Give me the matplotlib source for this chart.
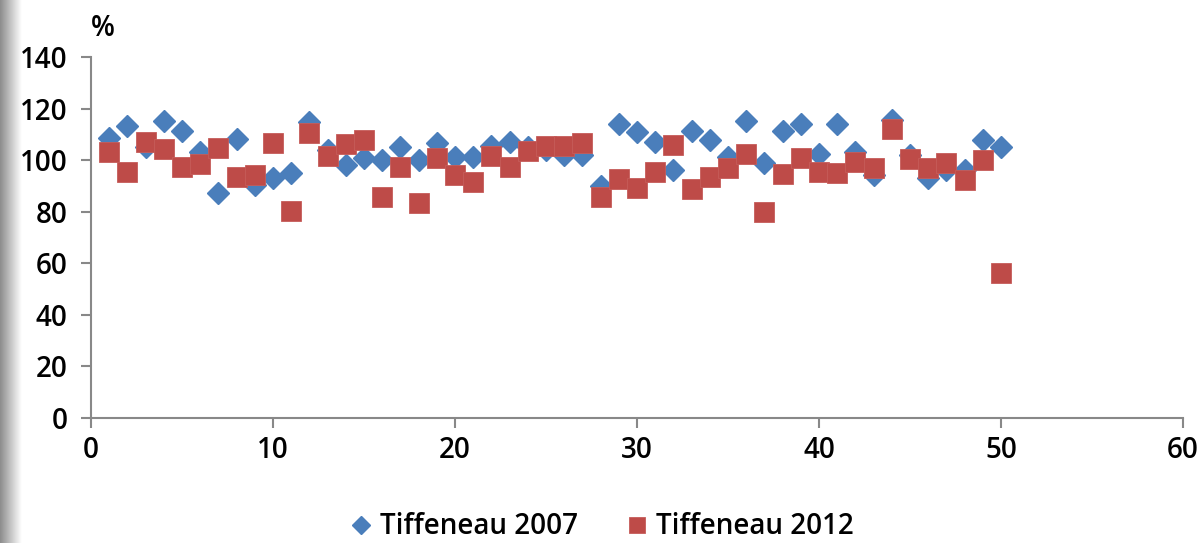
import matplotlib
matplotlib.use("Agg")
import matplotlib.pyplot as plt
import numpy as np

plt.rcParams["font.family"] = ["Open Sans", "DejaVu Sans"]

# sample index 1..50
samples = list(range(1, 51))

tiff_2007 = [108.6, 113.2, 105.0, 115.2, 111.2, 103.0, 87.1, 108.2, 90.3, 92.9,
             95.1, 114.9, 103.9, 98.1, 100.7, 100.0, 105.2, 100.0, 106.6, 101.3,
             101.3, 105.5, 107.1, 105.0, 104.0, 102.0, 102.0, 90.0, 114.2, 111.0,
             107.1, 96.2, 111.3, 108.0, 101.3, 115.2, 99.0, 111.2, 114.1, 102.2,
             114.1, 103.0, 94.2, 115.5, 102.0, 92.9, 96.2, 96.2, 108.0, 105.0]

tiff_2012 = [103.3, 95.3, 107.1, 104.2, 97.2, 98.5, 104.6, 93.3, 94.2, 106.5,
             80.3, 110.4, 101.7, 106.2, 108.0, 85.8, 97.2, 83.5, 100.9, 94.2,
             91.6, 101.6, 97.2, 103.5, 105.6, 105.5, 106.8, 85.6, 92.7, 89.3,
             95.5, 105.9, 88.7, 93.3, 96.8, 102.2, 79.9, 94.6, 100.9, 95.3,
             94.9, 99.4, 97.1, 112.0, 100.3, 96.8, 99.0, 92.3, 100.0, 56.1]

xticks = [0, 10, 20, 30, 40, 50, 60]
yticks = [0, 20, 40, 60, 80, 100, 120, 140]

W, H = 1201, 543
fig = plt.figure(figsize=(W / 100, H / 100), dpi=100)
ax = fig.add_axes([91 / W, 1 - 418 / H, (1183 - 91) / W, (418 - 57) / H])

ax.plot(samples, tiff_2007, linestyle="none", marker="D", ms=11,
        color="#4A7EBB", markeredgecolor="#4A7EBB", label="Tiffeneau 2007")
ax.plot(samples, tiff_2012, linestyle="none", marker="s", ms=15,
        color="#BE4B48", markeredgecolor="#C65C59", markeredgewidth=0.6,
        label="Tiffeneau 2012")

ax.set_xlim(0, 60)
ax.set_ylim(0, 140)
ax.set_xticks(xticks)
ax.set_yticks(yticks)
for s in ["top", "right"]:
    ax.spines[s].set_visible(False)
for s in ["left", "bottom"]:
    ax.spines[s].set_color("#888888")
    ax.spines[s].set_linewidth(1.5)
ax.tick_params(axis="both", colors="#888888", width=1.5, length=7,
               labelcolor="black", labelsize=20)
ax.tick_params(axis="x", pad=6)
ax.tick_params(axis="y", pad=10)
for lab in ax.get_xticklabels() + ax.get_yticklabels():
    lab.set_fontweight("semibold")

fig.text(103 / W, 1 - 28 / H, "%", fontsize=20, fontweight="semibold",
         ha="center", va="center")

handles, labels = ax.get_legend_handles_labels()
fig.legend(handles, labels, loc="center", bbox_to_anchor=(0.5, 1 - 527 / H),
           ncol=2, frameon=False, handlelength=1.0, handletextpad=0.2,
           columnspacing=1.6, numpoints=1, markerscale=0.8,
           prop={"size": 20, "weight": "semibold"})

# grey shadow at the left edge
sh = fig.add_axes([0, 0, 22 / W, 1])
grad = np.linspace(0.55, 1.0, 64).reshape(1, -1)
sh.imshow(grad, aspect="auto", cmap="gray", vmin=0, vmax=1,
          extent=[0, 1, 0, 1])
sh.axis("off")

fig.savefig("out.png", dpi=100)
